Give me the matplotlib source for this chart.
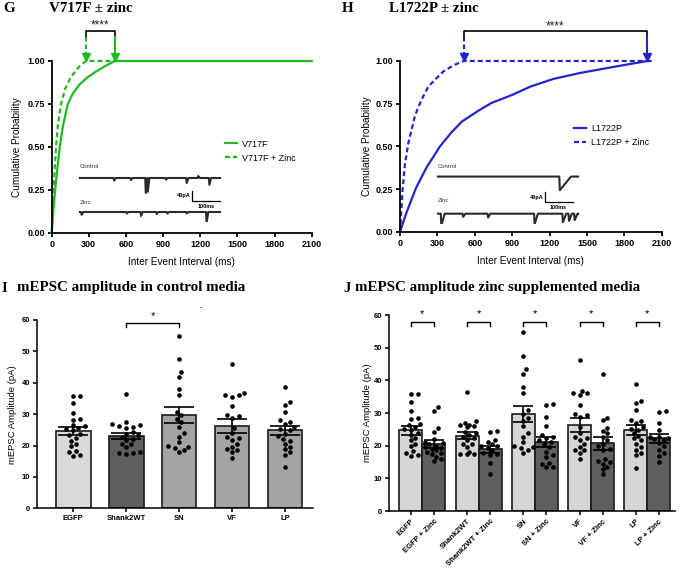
import numpy as np
import matplotlib
matplotlib.use("Agg")
import matplotlib.pyplot as plt
from matplotlib.ticker import FormatStrFormatter

plt.rcParams["font.family"] = ["Liberation Sans", "DejaVu Sans"]
TITLE_FONT = ["Liberation Serif", "DejaVu Serif"]

W, H = 685, 570

# cumulative probability curves (ms, probability)
v717f_ms = [0, 12, 28, 45, 65, 90, 130, 170, 220, 280, 350, 430, 511, 2100]
v717f_p = [0, 0.12, 0.25, 0.37, 0.50, 0.62, 0.75, 0.81, 0.86, 0.90, 0.935, 0.97, 1.0, 1.0]
v717f_zn_ms = [0, 7, 15, 25, 35, 50, 75, 110, 150, 200, 240, 277, 511]
v717f_zn_p = [0, 0.13, 0.25, 0.38, 0.50, 0.63, 0.75, 0.84, 0.90, 0.95, 0.98, 1.0, 1.0]
l1722p_ms = [0, 50, 130, 215, 320, 410, 495, 630, 735, 895, 1045, 1230, 1445, 1710, 1985, 2010]
l1722p_p = [0, 0.11, 0.26, 0.38, 0.50, 0.58, 0.645, 0.71, 0.755, 0.80, 0.85, 0.895, 0.93, 0.965, 1.0, 1.0]
l1722p_zn_ms = [0, 10, 20, 40, 67, 120, 170, 227, 280, 350, 430, 510, 2010]
l1722p_zn_p = [0, 0.12, 0.24, 0.40, 0.52, 0.68, 0.77, 0.85, 0.89, 0.94, 0.975, 1.0, 1.0]

# example trace events (time ms, amplitude pA, decay ms)
g_ctrl_t = [122, 182, 235, 242, 307, 381, 422, 462]
g_ctrl_a = [10, 8, 60, 55, 6, 20, -8, 27]
g_zn_t = [6, 167, 218, 274, 312, 381, 452]
g_zn_a = [11, 6, 16, 8, 6, 6, 44]
h_ctrl_t = [435]
h_ctrl_a = [53]
h_ctrl_d = [40]
h_zn_t = [12, 90, 179, 345, 446, 468, 488]
h_zn_a = [47, 12, 15, 40, 33, 28, 25]
h_zn_d = [12, 8, 8, 12, 12, 10, 10]

# mEPSC amplitudes (pA)
groups = ["EGFP", "Shank2WT", "SN", "VF", "LP"]
ctrl_means = [24.7, 23.0, 29.7, 26.3, 24.8]
ctrl_sems = [1.35, 1.05, 2.45, 2.2, 1.55]
zinc_means = [20.5, 18.9, 21.2, 20.7, 22.2]
zinc_sems = [1.15, 1.1, 1.6, 1.9, 1.5]

egfp = [35.9, 35.8, 33.4, 30.5, 28.6, 28.2, 26.5, 26.2, 25.6, 25.2, 24.8, 23.8, 23.2,
        22.4, 21.6, 20.6, 19.8, 18.4, 17.8, 17.0, 16.8]
shank2wt = [36.3, 27.4, 26.8, 26.4, 26.2, 26.0, 25.6, 24.2, 23.8, 23.2, 22.8, 22.2,
            21.8, 20.6, 20.4, 19.6, 18.0, 17.6, 17.5, 17.4]
sn = [54.8, 47.6, 43.4, 41.9, 38.0, 36.2, 30.8, 29.8, 28.6, 27.6, 26.0, 24.0, 22.8,
      21.0, 19.8, 19.6, 19.2, 18.6, 17.8]
vf = [46.1, 36.8, 36.2, 36.0, 35.6, 32.6, 29.7, 29.4, 28.9, 25.6, 24.0, 22.8, 22.4,
      21.8, 20.6, 19.6, 18.8, 18.6, 17.8, 15.9]
lp = [38.8, 33.8, 33.0, 30.8, 28.0, 27.6, 26.8, 25.8, 25.2, 24.8, 23.8, 23.0, 22.2,
      21.6, 20.6, 19.6, 18.8, 17.8, 17.0, 13.2]
egfp_zn = [31.8, 30.6, 25.4, 24.2, 22.0, 21.2, 20.8, 20.4, 20.0, 19.6, 19.4, 19.0,
           18.6, 18.2, 17.8, 17.4, 16.6, 15.8, 15.2]
shank2wt_zn = [24.4, 24.2, 21.8, 21.2, 20.4, 20.0, 19.8, 19.4, 18.6, 17.8, 17.6, 17.2,
               14.6, 11.4]
sn_zn = [32.9, 32.6, 28.8, 26.0, 23.4, 22.8, 22.2, 21.6, 21.0, 20.4, 19.6, 18.2, 17.0,
         16.4, 14.8, 14.4, 13.6, 13.4]
vf_zn = [41.8, 28.6, 27.8, 25.4, 24.6, 23.8, 22.6, 21.6, 20.6, 19.8, 19.0, 18.6, 16.0,
         15.4, 15.0, 14.4, 13.6, 12.8, 11.2]
lp_zn = [30.6, 30.2, 27.0, 24.8, 22.8, 22.6, 22.4, 22.0, 21.6, 20.8, 19.8, 18.8, 17.8,
         16.8, 15.0]
ctrl_points = [egfp, shank2wt, sn, vf, lp]
zinc_points = [egfp_zn, shank2wt_zn, sn_zn, vf_zn, lp_zn]

GREEN = "#22b822"
BLUE = "#2424cc"


def px_rect(x0, y0, x1, y1):
    return [x0 / W, 1 - y1 / H, (x1 - x0) / W, (y1 - y0) / H]


def bold_ticks(ax):
    for lab in ax.get_xticklabels() + ax.get_yticklabels():
        lab.set_fontweight("bold")


def style_cdf(ax, ylab_x):
    ax.set_xlim(0, 2100)
    ax.set_ylim(0, 1.0)
    ax.set_xticks(range(0, 2101, 300))
    ax.set_yticks([0, 0.25, 0.5, 0.75, 1.0])
    ax.yaxis.set_major_formatter(FormatStrFormatter("%.2f"))
    for s in ["top", "right"]:
        ax.spines[s].set_visible(False)
    for s in ["left", "bottom"]:
        ax.spines[s].set_linewidth(1.3)
    ax.tick_params(width=1.3, length=3, labelsize=6.5, pad=2)
    bold_ticks(ax)
    ax.set_xlabel("Inter Event Interval (ms)", fontsize=7.2)
    ax.set_ylabel("Cumulative Probability", fontsize=7.2)
    ax.xaxis.set_label_coords(0.5, -0.14)
    ax.yaxis.set_label_coords(ylab_x, 0.5)


def sig_arrows(ax, x1, x2, color):
    ytop, yleg = 1.174, 1.14
    ax.plot([x1, x1, x2, x2], [yleg, ytop, ytop, yleg], color="black", lw=1.2, clip_on=False)
    for x, ls in ((x1, (0, (2.2, 1.4))), (x2, "-")):
        ax.plot([x, x], [yleg, 1.035], color=color, lw=1.5, ls=ls, clip_on=False)
        ax.plot([x], [1.022], marker="v", ms=5.5, color=color, clip_on=False)
    ax.text((x1 + x2) / 2, 1.205, "****", ha="center", va="center", fontsize=8.5,
            color="#222222", clip_on=False)


def trace_xy(times, amps, decays, length, base):
    xs, ys = [0], [base]
    for t, a, d in zip(times, amps, decays):
        xs += [t - 2, t, t + d]
        ys += [base, base - a, base]
    xs.append(length)
    ys.append(base)
    return xs, ys


def inset(rect, ctrl, zinc, zinc_base, labels_y, bar_x, bar_y):
    ia = fig.add_axes(rect)
    ia.set_xlim(-7, 507)
    ia.set_ylim(zinc_base - 40, 72)
    ia.axis("off")
    for (t, a, d), base in ((ctrl, 0), (zinc, zinc_base)):
        xs, ys = trace_xy(t, a, d, 500, base)
        ia.plot(xs, ys, color="#2a2a2a", lw=1.5, solid_joinstyle="round")
    ia.text(0, labels_y[0], "Control", fontsize=4.3, color="#333333", va="center")
    ia.text(0, labels_y[1], "Zinc", fontsize=4.3, color="#333333", va="center")
    ia.plot([bar_x, bar_x, bar_x + 100], [bar_y + 40, bar_y, bar_y], color="black", lw=0.9)
    ia.text(bar_x - 5, bar_y + 20, "40pA", fontsize=4, fontweight="bold", ha="right", va="center")
    ia.text(bar_x + 50, bar_y - 10, "100ms", fontsize=4, fontweight="bold", ha="center", va="top")


def swarm(ax, xc, vals, dot_px, half_px):
    tr = ax.transData.transform
    sx = tr((1, 0))[0] - tr((0, 0))[0]
    sy = tr((0, 1))[1] - tr((0, 0))[1]
    placed = []
    out = np.zeros(len(vals))
    for i in np.argsort(vals):
        y = vals[i] * sy
        best, best_d = 0.0, -1
        for k in range(60):
            off = ((k + 1) // 2) * dot_px * 0.5 * (1 if k % 2 else -1)
            if abs(off) > half_px:
                continue
            d = min([np.hypot(off - px, y - py) for px, py in placed] + [1e9])
            if d >= dot_px * 1.1:
                best = off
                break
            if d > best_d:
                best, best_d = off, d
        placed.append((best, y))
        out[i] = xc + best / sx
    return out


def style_bars(ax, xlim, ylab_x):
    ax.set_xlim(*xlim)
    ax.set_ylim(0, 60)
    ax.set_yticks(range(0, 61, 10))
    for s in ["top", "right"]:
        ax.spines[s].set_visible(False)
    for s in ["left", "bottom"]:
        ax.spines[s].set_linewidth(1.1)
    ax.tick_params(width=1.1, length=3, labelsize=5.5, pad=2)
    ax.set_ylabel("mEPSC Amplitude (pA)", fontsize=6.8)
    ax.yaxis.set_label_coords(ylab_x, 0.5)


def bar_group(ax, xs, means, sems, points, colors, width, cap):
    ax.bar(xs, means, width=width, color=colors, edgecolor="#1a1a1a", linewidth=1.2, zorder=1)
    unit_px = ax.transData.transform((1, 0))[0] - ax.transData.transform((0, 0))[0]
    for x, pts in zip(xs, points):
        px = swarm(ax, x, pts, 4.6, width * unit_px * 0.42)
        ax.scatter(px, pts, s=11, color="black", zorder=2, linewidths=0)
    ax.errorbar(xs, means, yerr=sems, fmt="none", ecolor="black", elinewidth=1.2,
                capsize=cap, capthick=1.2, zorder=3)


def bracket(ax, x1, x2, ytop, yleg, ystar):
    ax.plot([x1, x1, x2, x2], [yleg, ytop, ytop, yleg], color="black", lw=1.0, clip_on=False)
    ax.text((x1 + x2) / 2, ystar, "*", ha="center", va="center", fontsize=8, clip_on=False)


fig = plt.figure(figsize=(W / 100, H / 100), dpi=100)

# ---- G
axg = fig.add_axes(px_rect(51.7, 61, 311.7, 233))
axg.plot(v717f_ms, v717f_p, color=GREEN, lw=1.6, label="V717F", clip_on=False)
axg.plot(v717f_zn_ms, v717f_zn_p, color=GREEN, lw=1.6, ls=(0, (2.2, 1.4)),
         label="V717F + Zinc", clip_on=False)
style_cdf(axg, -0.114)
sig_arrows(axg, 277, 511, GREEN)
axg.legend(loc="upper left", bbox_to_anchor=(0.635, 0.59), frameon=False, fontsize=6.5,
           handlelength=1.3, handletextpad=0.6, labelspacing=0.55)

# ---- H
axh = fig.add_axes(px_rect(400, 61, 661.7, 232))
axh.plot(l1722p_ms, l1722p_p, color=BLUE, lw=1.6, label="L1722P", clip_on=False)
axh.plot(l1722p_zn_ms, l1722p_zn_p, color=BLUE, lw=1.6, ls=(0, (2.2, 1.4)),
         label="L1722P + Zinc", clip_on=False)
style_cdf(axh, -0.107)
sig_arrows(axh, 514, 1980, BLUE)
axh.legend(loc="upper left", bbox_to_anchor=(0.635, 0.68), frameon=False, fontsize=6.5,
           handlelength=1.3, handletextpad=0.6, labelspacing=0.55)

inset(px_rect(78, 160, 222, 222),
      (g_ctrl_t, g_ctrl_a, [6] * len(g_ctrl_t)),
      (g_zn_t, g_zn_a, [6] * len(g_zn_t)), -136, (44, -96), 400, -92)
inset(px_rect(436, 158, 580, 224),
      (h_ctrl_t, h_ctrl_a, h_ctrl_d),
      (h_zn_t, h_zn_a, h_zn_d), -144, (40, -92), 381, -100)

# ---- I
axi = fig.add_axes(px_rect(37.3, 320, 313, 508.3))
style_bars(axi, (-0.68, 4.53), -0.074)
xi = np.arange(len(groups))
bar_group(axi, xi, ctrl_means, ctrl_sems, ctrl_points,
          ["#d9d9d9", "#5e5e5e", "#a4a4a7", "#a4a4a7", "#a4a4a7"], 0.655, 11)
axi.set_xticks(xi)
axi.set_xticklabels(groups)
bold_ticks(axi)
bracket(axi, 1, 2, 59.1, 57.9, 61.3)

# ---- J
axj = fig.add_axes(px_rect(389.3, 315, 675, 511))
style_bars(axj, (-1.44, 11.0), -0.061)
centers = np.arange(len(groups)) * 2.45
xj = np.ravel(np.column_stack([centers - 0.5, centers + 0.5]))
mj = np.ravel(np.column_stack([ctrl_means, zinc_means]))
sj = np.ravel(np.column_stack([ctrl_sems, zinc_sems]))
pj = [p for pair in zip(ctrl_points, zinc_points) for p in pair]
bar_group(axj, xj, mj, sj, pj, ["#d6d6d6", "#5f5f5f"] * len(groups), 1.0, 7)
jlabels = [l for g in groups for l in (g, g + " + Zinc")]
axj.set_xticks(xj)
axj.set_xticklabels(jlabels, rotation=45, ha="right", rotation_mode="anchor")
bold_ticks(axj)
for c in centers:
    bracket(axj, c - 0.5, c + 0.5, 57.9, 56.6, 60.4)

# ---- panel titles
tkw = dict(family=TITLE_FONT, fontweight="bold", fontsize=10.8, va="center")
fig.text(3 / W, 1 - 9 / H, "G", **tkw)
fig.text(49 / W, 1 - 9 / H, "V717F ± zinc", **tkw)
fig.text(342 / W, 1 - 9 / H, "H", **tkw)
fig.text(389 / W, 1 - 9 / H, "L1722P ± zinc", **tkw)
fig.text(2 / W, 1 - 288 / H, "I", **tkw)
fig.text(17 / W, 1 - 288 / H, "mEPSC amplitude in control media", **tkw)
fig.text(343 / W, 1 - 288 / H, "J", **tkw)
fig.text(355 / W, 1 - 288 / H, "mEPSC amplitude zinc supplemented media", **tkw)
fig.text(201 / W, 1 - 308 / H, "-", fontsize=5, ha="center", va="center")

fig.savefig("out.png", dpi=100)
